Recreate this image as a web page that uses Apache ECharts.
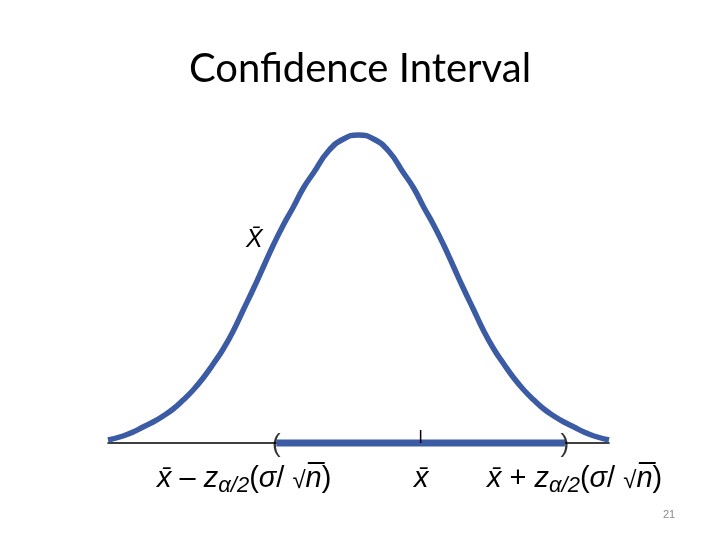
<!DOCTYPE html>
<html>
<head>
<meta charset="utf-8">
<script src="https://cdn.jsdelivr.net/npm/echarts@6/dist/echarts.min.js"></script>
<style>html,body{margin:0;padding:0;background:#fff}#c{width:720px;height:540px}</style>
</head>
<body>
<div id="c"></div>
<script>
// Sampling distribution curve (x in units, y in relative height)
const curveX = [-25, -23.5, -22.5, -21.5, -20.5, -19.5, -18.5, -17.5, -16.5, -15.5, -14.5, -13.5, -12.5, -11.5, -10.5, -9.5, -8.5, -7.5, -6.5, -5.5, -4.5, -3, -1.5, 0,
                1.5, 3, 4.5, 5.5, 6.5, 7.5, 8.5, 9.5, 10.5, 11.5, 12.5, 13.5, 14.5, 15.5, 16.5, 17.5, 18.5, 19.5, 20.5, 21.5, 22.5, 23.5, 25];
const curveY = [0.3, 0.7, 1.1, 1.6, 2.1, 2.7, 3.4, 4.3, 5.3, 6.5, 7.9, 9.4, 11.2, 13.3, 15.4, 17.6, 19.8, 21.8, 23.6, 25.5, 27.0, 29.2, 30.4, 30.8,
                30.4, 29.2, 27.0, 25.5, 23.6, 21.8, 19.8, 17.6, 15.4, 13.3, 11.2, 9.4, 7.9, 6.5, 5.3, 4.3, 3.4, 2.7, 2.1, 1.6, 1.1, 0.7, 0.3];
// Confidence interval: lower bound, sample mean, upper bound
const intervalLow = -8.2;
const sampleMean = 6.2;
const intervalHigh = 20.6;
const meanTickHeight = 1.3;
const titleText = 'Confidence Interval';
const pageNumber = '21';

const blue = '#3B5BA4';
const chart = echarts.init(document.getElementById('c'));
const curve = curveX.map((x, i) => [x, curveY[i]]);

const mathRich = {
  i: {fontFamily: 'Liberation Sans', fontStyle: 'italic', fontSize: 29, color: '#000'},
  n: {fontFamily: 'Liberation Sans', fontSize: 29, color: '#000'},
  r: {fontFamily: 'Liberation Sans', fontSize: 24, color: '#000', padding: [5, 0, 0, 0]},
  s: {fontFamily: 'Liberation Sans', fontStyle: 'italic', fontSize: 22, color: '#000', padding: [15, 0, 0, 0]}
};
const lowerLabel = '{i|x\u0304}{n| \u2013 }{i|z}{s|\u03b1/2}{n|(}{i|\u03c3}{n|/ }{r|\u221a}{i|n\u0305}{n|)}';
const upperLabel = '{i|x\u0304}{n| + }{i|z}{s|\u03b1/2}{n|(}{i|\u03c3}{n|/ }{r|\u221a}{i|n\u0305}{n|)}';

chart.setOption({
  animation: false,
  backgroundColor: '#fff',
  title: {
    text: titleText, left: 'center', top: 44,
    textStyle: {fontFamily: 'Lato', fontWeight: 'normal', fontSize: 40, color: '#000'}
  },
  grid: {left: 108, right: 111, top: 133, bottom: 7},
  xAxis: {
    type: 'value', min: -25, max: 25,
    axisLine: {onZero: true, lineStyle: {color: '#000', width: 1.6}},
    axisTick: {show: false}, axisLabel: {show: false}, splitLine: {show: false}
  },
  yAxis: {
    type: 'value', min: -9, max: 31, show: false, splitLine: {show: false}
  },
  series: [
    {
      type: 'line', data: curve, smooth: 0.5, symbol: 'none', z: 3,
      lineStyle: {color: blue, width: 5.5}
    },
    {
      type: 'line', data: [[intervalLow, 0], [intervalHigh, 0]], symbol: 'none', z: 4,
      lineStyle: {color: blue, width: 7}
    },
    {
      type: 'line', data: [[sampleMean, 0], [sampleMean, meanTickHeight]], symbol: 'none', z: 4,
      lineStyle: {color: '#000', width: 1.5}
    },
    {
      type: 'scatter', symbolSize: 0, clip: false, z: 5,
      data: [
        {value: [intervalLow, 0], label: {formatter: '('}},
        {value: [intervalHigh, 0], label: {formatter: ')'}}
      ],
      label: {show: true, position: 'inside', offset: [0, 2], fontFamily: 'Liberation Sans', fontSize: 26, color: '#000'}
    }
  ],
  graphic: [
    {type: 'text', left: 157, top: 464, style: {text: lowerLabel, rich: mathRich}},
    {type: 'text', left: 414, top: 464, style: {text: '{i|x\u0304}', rich: mathRich}},
    {type: 'text', left: 487, top: 464, style: {text: upperLabel, rich: mathRich}},
    {type: 'text', left: 246, top: 228, style: {text: '{i|X\u0304}', rich: {i: {fontFamily: 'Liberation Sans', fontStyle: 'italic', fontSize: 25, color: '#000'}}}},
    {type: 'text', left: 663, top: 509, style: {text: pageNumber, fontFamily: 'Liberation Sans', fontSize: 11, fill: '#8a8a8a'}}
  ]
});
</script>
</body>
</html>
